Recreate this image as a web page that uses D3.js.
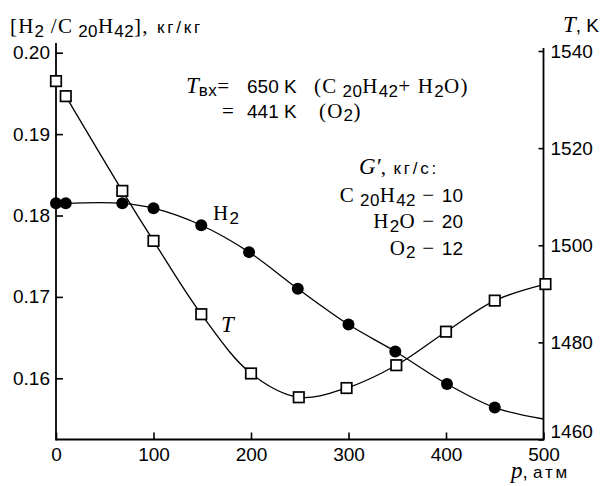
<!DOCTYPE html>
<html>
<head>
<meta charset="utf-8">
<script src="https://cdn.jsdelivr.net/npm/d3@7"></script>
<style>
  body { margin: 0; background: #fff; }
  svg { display: block; }
  .tick text { font-family: "Liberation Sans", Arial, sans-serif; font-size: 19px; fill: #000; }
  .tick line { stroke: #000; stroke-width: 1.6; }
</style>
</head>
<body>
<div id="chart"></div>
<script>
// pressure, atm
const pressureTicks = [0, 100, 200, 300, 400, 500];
const h2Ticks = [0.16, 0.17, 0.18, 0.19, 0.20];
const tTicks = [1460, 1480, 1500, 1520, 1540];

// H2 / C20H42 ratio, kg/kg (filled circles)
const h2P = [0, 10, 68, 100, 149, 198, 248, 300, 348, 401, 450];
const h2Val = [0.1815, 0.1815, 0.1815, 0.1809, 0.1788, 0.1755, 0.1710, 0.1666, 0.1633, 0.1593, 0.1564];
// fitted curve runs on to the right edge
const h2TailP = [500];
const h2TailVal = [0.1550];

// temperature T, K (open squares)
const tP = [0, 10, 68, 100, 149, 200, 249, 298, 349, 400, 450, 502];
const tVal = [1533.8, 1530.7, 1511.2, 1500.9, 1485.8, 1473.6, 1468.7, 1470.6, 1475.3, 1482.2, 1488.6, 1492.0];

const W = 607, H = 486;
const svg = d3.select('#chart').append('svg')
    .attr('width', W)
    .attr('height', H);

// plot frame
const left = 56, right = 543.5, bottom = 439.5;

const x = d3.scaleLinear().domain([0, 500]).range([left, right]);
const yL = d3.scaleLinear().domain([0.16, 0.20]).range([378.3, 52.7]);
const yR = d3.scaleLinear().domain([1460, 1540]).range([bottom, 51]);

// axes
const xAxis = d3.axisBottom(x).tickValues(pressureTicks).tickSizeInner(-7).tickSizeOuter(0).tickPadding(8);
const yAxisL = d3.axisLeft(yL).tickValues(h2Ticks).tickSizeInner(-7).tickSizeOuter(0).tickPadding(6).tickFormat(d3.format('.2f'));
const yAxisR = d3.axisRight(yR).tickValues(tTicks).tickSizeInner(-5).tickSizeOuter(0).tickPadding(7).tickFormat(d3.format('d'));

svg.append('g').attr('class', 'x-axis').attr('transform', `translate(0,${bottom})`).call(xAxis);
svg.append('g').attr('class', 'y-axis').attr('transform', `translate(${left},0)`).call(yAxisL);
const gr = svg.append('g').attr('class', 'y-axis-r').attr('transform', `translate(${right},0)`).call(yAxisR);
svg.selectAll('.domain').remove();
// 1460 label sits a little above the corner
gr.selectAll('.tick text').filter(d => d === 1460).attr('dy', '-0.1em');

// frame lines
svg.append('line').attr('x1', left).attr('x2', left).attr('y1', 43).attr('y2', bottom + 0.9)
    .attr('stroke', '#000').attr('stroke-width', 1.8);
svg.append('line').attr('x1', right).attr('x2', right).attr('y1', 48).attr('y2', bottom + 0.9)
    .attr('stroke', '#000').attr('stroke-width', 1.8);
svg.append('line').attr('x1', left).attr('x2', right).attr('y1', bottom).attr('y2', bottom)
    .attr('stroke', '#000').attr('stroke-width', 1.8);

// curves
const h2Pts = h2P.map((p, i) => [p, h2Val[i]]).slice(1)
    .concat(h2TailP.map((p, i) => [p, h2TailVal[i]]));
const tPts = tP.map((p, i) => [p, tVal[i]]).slice(1);

svg.append('path')
    .datum(h2Pts)
    .attr('fill', 'none').attr('stroke', '#000').attr('stroke-width', 1.3)
    .attr('d', d3.line().x(d => x(d[0])).y(d => yL(d[1])).curve(d3.curveCatmullRom.alpha(0.5)));

svg.append('path')
    .datum(tPts)
    .attr('fill', 'none').attr('stroke', '#000').attr('stroke-width', 1.3)
    .attr('d', d3.line().x(d => x(d[0])).y(d => yR(d[1])).curve(d3.curveCatmullRom.alpha(0.5)));

// markers
const sq = 10.5;
svg.selectAll('.tsq')
    .data(tP.map((p, i) => [p, tVal[i]]))
    .join('rect')
    .attr('class', 'tsq')
    .attr('x', d => x(d[0]) - sq / 2)
    .attr('y', d => yR(d[1]) - sq / 2)
    .attr('width', sq).attr('height', sq)
    .attr('fill', '#fff').attr('stroke', '#000').attr('stroke-width', 1.7);

svg.selectAll('.h2dot')
    .data(h2P.map((p, i) => [p, h2Val[i]]))
    .join('circle')
    .attr('class', 'h2dot')
    .attr('cx', d => x(d[0]))
    .attr('cy', d => yL(d[1]))
    .attr('r', 6)
    .attr('fill', '#000');

// rich text helper: parts = [text, kind, dy]
const SERIF = '"Liberation Serif", "Times New Roman", serif';
const SANS = '"Liberation Sans", Arial, sans-serif';
const kinds = {
    s: {f: SERIF, size: 21, style: 'normal', ls: 1.2},
    i: {f: SERIF, size: 23, style: 'italic', ls: 0},
    a: {f: SANS, size: 19, style: 'normal', ls: 0},
    u: {f: SANS, size: 17, style: 'normal', ls: 2.8},
    b: {f: SANS, size: 17, style: 'normal', ls: 0.4}
};
function rich(px, py, parts, anchor) {
    const t = svg.append('text')
        .attr('x', px).attr('y', py)
        .attr('text-anchor', anchor || 'start')
        .attr('fill', '#000');
    parts.forEach(p => {
        const k = kinds[p[1]];
        t.append('tspan')
            .attr('dy', p[2] || 0)
            .attr('font-family', k.f)
            .attr('font-size', k.size)
            .attr('font-style', k.style)
            .attr('letter-spacing', k.ls)
            .text(p[0]);
    });
    return t;
}

// axis titles
rich(10, 33, [['[H', 's'], ['2', 'b', 4], [' /C', 's', -4], [' 20', 'b', 4], ['H', 's', -4], ['42', 'b', 4], ['],', 's', -4]]);
rich(157, 33, [['кг/кг', 'u']]);
rich(563, 32, [['T', 'i'], [', K', 'a']]);
rich(511, 478, [['p', 'i'], [', ', 'a'], ['атм', 'u']]);

// inlet temperatures
rich(186, 93, [['T', 'i'], ['вх', 'b', 3], ['=', 's', -3]]);
rich(247, 93, [['650 K', 'a']]);
rich(314, 93, [['(C', 's'], [' 20', 'b', 4], ['H', 's', -4], ['42', 'b', 4], ['+', 's', -4], [' H', 's'], ['2', 'b', 4], ['O)', 's', -4]]);
rich(222, 118, [['=', 's']]);
rich(247, 118, [['441 K', 'a']]);
rich(319, 118, [['(O', 's'], ['2', 'b', 3], [')', 's', -3]]);

// flow rates
rich(359, 174, [['G′', 'i'], [', ', 's'], ['кг/с:', 'u']]);
rich(463, 202, [['C', 's'], [' 20', 'b', 4], ['H', 's', -4], ['42', 'b', 4], [' − ', 's', -4], ['10', 'a']], 'end');
rich(463, 228, [['H', 's'], ['2', 'b', 4], ['O', 's', -4], [' − ', 's'], ['20', 'a']], 'end');
rich(463, 255, [['O', 's'], ['2', 'b', 3], [' − ', 's', -3], ['12', 'a']], 'end');

// curve labels
rich(213, 220, [['H', 's'], ['2', 'b', 4]]);
rich(221, 332, [['T', 'i']]);
</script>
</body>
</html>
